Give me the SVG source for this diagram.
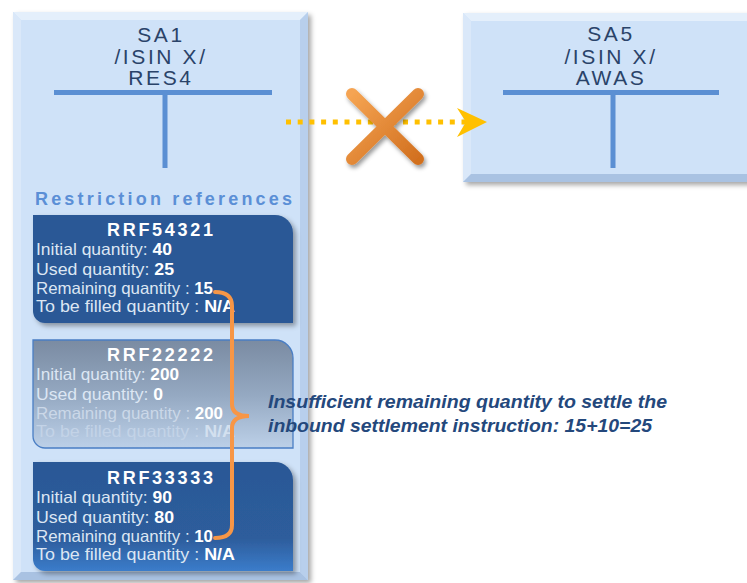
<svg xmlns="http://www.w3.org/2000/svg" width="747" height="583" viewBox="0 0 747 583">
<defs>
<style>
.acct{font-family:"Liberation Sans",Arial,sans-serif;font-size:21px;fill:#2a4369;text-anchor:middle;letter-spacing:2.6px}
.tbar{stroke:#5b8fd3;stroke-width:5;fill:none}
.ttl{font-family:"Liberation Sans",Arial,sans-serif;font-size:18px;font-weight:bold;fill:#ffffff}
.ln{font-family:"Liberation Sans",Arial,sans-serif;font-size:16.5px;fill:#dce6f3}
.b{font-weight:bold;fill:#ffffff}
.lbl{font-family:"Liberation Sans",Arial,sans-serif;font-size:19px;font-weight:bold;font-style:italic;fill:#24487c}
</style>
<filter id="sh" x="-10%" y="-10%" width="130%" height="130%">
<feDropShadow dx="3" dy="3" stdDeviation="2.5" flood-color="#000" flood-opacity="0.35"/>
</filter>
<filter id="sh2" x="-20%" y="-20%" width="150%" height="150%">
<feDropShadow dx="2" dy="3" stdDeviation="2" flood-color="#000" flood-opacity="0.4"/>
</filter>
<linearGradient id="g3" x1="0" y1="0" x2="0" y2="1">
<stop offset="0" stop-color="#2b5896"/>
<stop offset="0.7" stop-color="#2d5d9c"/>
<stop offset="1" stop-color="#3b7cca"/>
</linearGradient>
<linearGradient id="g2" x1="0" y1="0" x2="0" y2="1">
<stop offset="0" stop-color="#7a8ba2"/>
<stop offset="0.5" stop-color="#94a8c1"/>
<stop offset="1" stop-color="#bcd0e8"/>
</linearGradient>
<linearGradient id="gx" x1="0" y1="0" x2="1" y2="1">
<stop offset="0" stop-color="#f5a452"/>
<stop offset="1" stop-color="#d2701f"/>
</linearGradient>
</defs>

<g id="SA1">
<g filter="url(#sh)">
<rect x="13" y="12" width="295" height="568" fill="#cfe2f8"/>
</g>
<polygon points="13,12 308,12 300,20 21,20" fill="#e4effb"/>
<polygon points="13,12 21,20 21,572 13,580" fill="#dae8f9"/>
<polygon points="308,12 308,580 300,572 300,20" fill="#b8cfec"/>
<polygon points="13,580 308,580 300,572 21,572" fill="#a9c2e2"/>
<text class="acct" x="161" y="42">SA1</text>
<text class="acct" x="161" y="64">/ISIN X/</text>
<text class="acct" x="161" y="85">RES4</text>
<line class="tbar" x1="54" y1="92.5" x2="272" y2="92.5"/>
<line class="tbar" x1="165" y1="92" x2="165" y2="168"/>
<text x="35" y="205" font-family="Liberation Sans, Arial, sans-serif" font-size="18" font-weight="bold" fill="#5b8fd6" textLength="257" lengthAdjust="spacing">Restriction references</text>
</g>

<g id="SA5">
<g filter="url(#sh)">
<rect x="463" y="13" width="300" height="169" fill="#cfe2f8"/>
</g>
<polygon points="463,13 763,13 755,21 471,21" fill="#e4effb"/>
<polygon points="463,13 471,21 471,174 463,182" fill="#dae8f9"/>
<polygon points="463,182 763,182 755,174 471,174" fill="#a9c2e2"/>
<text class="acct" x="611" y="41">SA5</text>
<text class="acct" x="611" y="64">/ISIN X/</text>
<text class="acct" x="611" y="85">AWAS</text>
<line class="tbar" x1="503" y1="92.5" x2="719" y2="92.5"/>
<line class="tbar" x1="613" y1="92" x2="613" y2="168"/>
</g>

<g id="RRF54321">
<path d="M33,215 H275 A18,18 0 0 1 293,233 V323 H45 A12,12 0 0 1 33,311 Z" fill="#2b5896" filter="url(#sh)"/>
<text class="ttl" x="107" y="236" textLength="106" lengthAdjust="spacing">RRF54321</text>
<text class="ln" x="36" y="255" textLength="136" lengthAdjust="spacingAndGlyphs">Initial quantity: <tspan class="b">40</tspan></text>
<text class="ln" x="36" y="275" textLength="138" lengthAdjust="spacingAndGlyphs">Used quantity: <tspan class="b">25</tspan></text>
<text class="ln" x="36" y="294" textLength="177" lengthAdjust="spacingAndGlyphs">Remaining quantity : <tspan class="b">15</tspan></text>
<text class="ln" x="36" y="312" textLength="199" lengthAdjust="spacingAndGlyphs">To be filled quantity : <tspan class="b">N/A</tspan></text>
</g>

<g id="RRF22222">
<path d="M33,340 H275 A18,18 0 0 1 293,358 V448 H45 A12,12 0 0 1 33,436 Z" fill="url(#g2)" stroke="#4a7ec4" stroke-width="1.3"/>
<text class="ttl" x="107" y="361" textLength="106" lengthAdjust="spacing" fill="#f4f7fb">RRF22222</text>
<text class="ln" x="36" y="380" textLength="143" lengthAdjust="spacingAndGlyphs" fill="#dfe6ef">Initial quantity: <tspan class="b">200</tspan></text>
<text class="ln" x="36" y="400" textLength="127" lengthAdjust="spacingAndGlyphs" fill="#e6ecf4">Used quantity: <tspan class="b">0</tspan></text>
<text class="ln" x="36" y="419" textLength="187" lengthAdjust="spacingAndGlyphs" style="fill:#cbd8e8">Remaining quantity : <tspan class="b">200</tspan></text>
<text class="ln" x="36" y="437" textLength="199" lengthAdjust="spacingAndGlyphs" style="fill:#c3d3e7">To be filled quantity : <tspan style="font-weight:bold;fill:#d3e0ef">N/A</tspan></text>
</g>

<g id="RRF33333">
<path d="M33,462 H275 A18,18 0 0 1 293,480 V571 H45 A12,12 0 0 1 33,559 Z" fill="url(#g3)" filter="url(#sh)"/>
<text class="ttl" x="107" y="484" textLength="106" lengthAdjust="spacing">RRF33333</text>
<text class="ln" x="36" y="503" textLength="136" lengthAdjust="spacingAndGlyphs">Initial quantity: <tspan class="b">90</tspan></text>
<text class="ln" x="36" y="523" textLength="138" lengthAdjust="spacingAndGlyphs">Used quantity: <tspan class="b">80</tspan></text>
<text class="ln" x="36" y="542" textLength="177" lengthAdjust="spacingAndGlyphs">Remaining quantity : <tspan class="b">10</tspan></text>
<text class="ln" x="36" y="560" textLength="199" lengthAdjust="spacingAndGlyphs">To be filled quantity : <tspan class="b">N/A</tspan></text>
</g>

<g id="connectors">
<line x1="286" y1="122" x2="467" y2="122" stroke="#ffc000" stroke-width="5" stroke-dasharray="5 6.7"/>
<polygon points="457,108 487,122 457,137 466,122" fill="#ffc000"/>
<path d="M215,292 Q232,292 232,306 L232,404 Q232,416 249,416 Q232,416 232,428 L232,525 Q232,538 215,538" fill="none" stroke="#f79646" stroke-width="4" stroke-linecap="round"/>
</g>

<g id="cross" filter="url(#sh2)">
<line x1="352" y1="94" x2="418" y2="159" stroke="url(#gx)" stroke-width="12" stroke-linecap="round"/>
<line x1="418" y1="94" x2="352" y2="159" stroke="url(#gx)" stroke-width="12" stroke-linecap="round"/>
</g>

<g id="note">
<text class="lbl" x="268" y="408" textLength="399" lengthAdjust="spacingAndGlyphs">Insufficient remaining quantity to settle the</text>
<text class="lbl" x="268" y="432" textLength="384" lengthAdjust="spacingAndGlyphs">inbound settlement instruction: 15+10=25</text>
</g>
</svg>
